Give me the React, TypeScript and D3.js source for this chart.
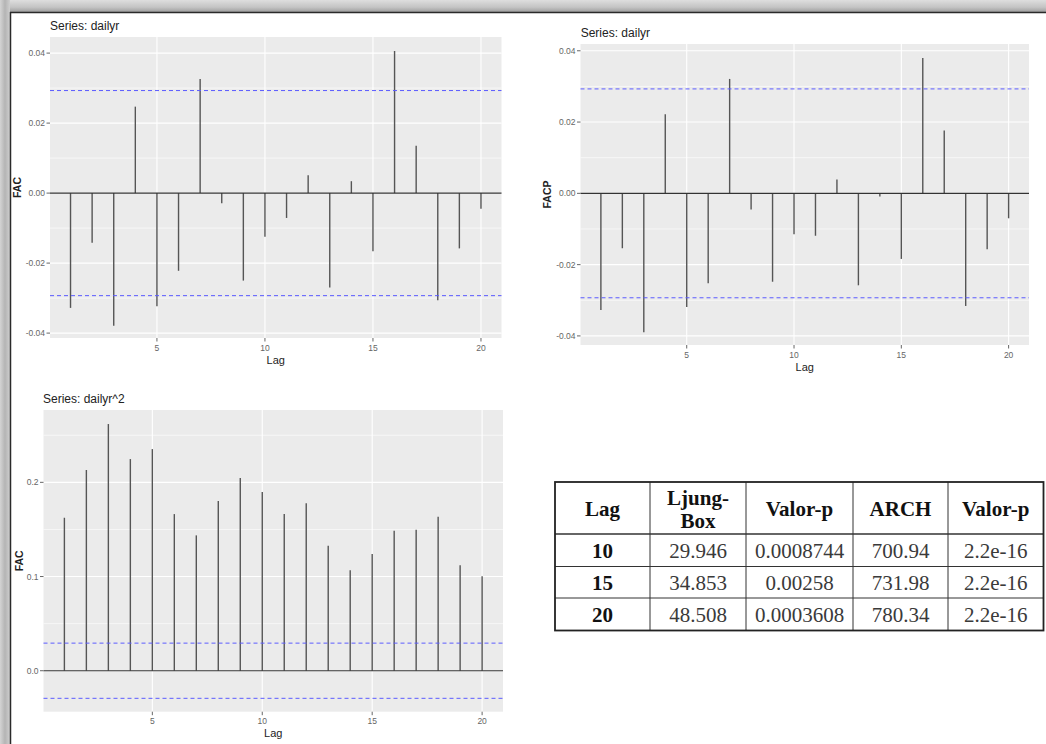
import React from 'react';
import * as d3 from 'd3';

const lags = [1, 2, 3, 4, 5, 6, 7, 8, 9, 10, 11, 12, 13, 14, 15, 16, 17, 18, 19, 20];
const acfDailyr = [-0.0328, -0.0142, -0.0379, 0.0247, -0.0323, -0.0222, 0.0326, -0.0029, -0.025, -0.0125,
  -0.0071, 0.0051, -0.027, 0.0034, -0.0166, 0.0406, 0.0135, -0.0306, -0.0158, -0.0045];
const pacfDailyr = [-0.0327, -0.0154, -0.039, 0.0222, -0.0319, -0.0252, 0.0321, -0.0045, -0.0248, -0.0115,
  -0.0119, 0.0039, -0.0258, -0.0009, -0.0184, 0.038, 0.0176, -0.0316, -0.0157, -0.007];
const acfDailyrSq = [0.1624, 0.2131, 0.2619, 0.2247, 0.2353, 0.1663, 0.1437, 0.1801, 0.2046, 0.1897,
  0.1663, 0.1777, 0.1327, 0.1066, 0.1239, 0.1486, 0.1497, 0.1635, 0.1119, 0.1002];
const ciBound = 0.0293;

const xTicks = [5, 10, 15, 20];
const yTicksSmall = [-0.04, -0.02, 0, 0.02, 0.04];
const yTickLabelsSmall = ['-0.04', '-0.02', '0.00', '0.02', '0.04'];
const yMinorSmall = [-0.03, -0.01, 0.01, 0.03];
const yTicksSq = [0, 0.1, 0.2];
const yTickLabelsSq = ['0.0', '0.1', '0.2'];
const yMinorSq = [0.05, 0.15, 0.25];

const tableHeader = [['Lag'], ['Ljung-', 'Box'], ['Valor-p'], ['ARCH'], ['Valor-p']];
const tableLags = ['10', '15', '20'];
const tableLjungBox = ['29.946', '34.853', '48.508'];
const tablePLjung = ['0.0008744', '0.00258', '0.0003608'];
const tableArch = ['700.94', '731.98', '780.34'];
const tablePArch = ['2.2e-16', '2.2e-16', '2.2e-16'];

const SANS = 'Liberation Sans, Arial, sans-serif';
const SERIF = 'Liberation Serif, Times New Roman, serif';

type PanelProps = {
  x0: number; x1: number; y0: number; y1: number;
  yDomain: [number, number];
  values: number[];
  title: string; titleX: number; titleY: number;
  yLabel: string; yLabelX: number;
  yTicks: number[]; yTickLabels: string[]; yMinor: number[];
  xTickY: number; xLabelY: number;
};

function AcfPanel(p: PanelProps) {
  const x = d3.scaleLinear().domain([0.05, 20.95]).range([p.x0, p.x1]);
  const y = d3.scaleLinear().domain(p.yDomain).range([p.y1, p.y0]);
  const cx = (p.x0 + p.x1) / 2;
  const cy = (p.y0 + p.y1) / 2;
  return (
    <g>
      <rect x={p.x0} y={p.y0} width={p.x1 - p.x0} height={p.y1 - p.y0} fill="#EBEBEB" />
      {p.yMinor.map((v) => (
        <line key={'ym' + v} x1={p.x0} x2={p.x1} y1={y(v)} y2={y(v)} stroke="#fff" strokeWidth={0.6} />
      ))}
      {p.yTicks.map((v) => (
        <line key={'yg' + v} x1={p.x0} x2={p.x1} y1={y(v)} y2={y(v)} stroke="#fff" strokeWidth={1.1} />
      ))}
      {xTicks.map((v) => (
        <line key={'xg' + v} x1={x(v)} x2={x(v)} y1={p.y0} y2={p.y1} stroke="#fff" strokeWidth={1.1} />
      ))}
      {lags.map((l, i) => (
        <line key={'s' + l} x1={x(l)} x2={x(l)} y1={y(0)} y2={y(p.values[i])} stroke="#555" strokeWidth={1.4} />
      ))}
      <line x1={p.x0} x2={p.x1} y1={y(0)} y2={y(0)} stroke="#333" strokeWidth={1.1} />
      {[ciBound, -ciBound].map((v) => (
        <line key={'ci' + v} x1={p.x0} x2={p.x1} y1={y(v)} y2={y(v)} stroke="#5b5bff" strokeWidth={1} strokeDasharray="4,3" />
      ))}
      {p.yTicks.map((v, i) => (
        <g key={'yt' + v}>
          <line x1={p.x0 - 3.5} x2={p.x0} y1={y(v)} y2={y(v)} stroke="#666" strokeWidth={1} />
          <text x={p.x0 - 5} y={y(v)} dy="0.35em" textAnchor="end" fontFamily={SANS} fontSize={8.5} fill="#666">
            {p.yTickLabels[i]}
          </text>
        </g>
      ))}
      {xTicks.map((v) => (
        <g key={'xt' + v}>
          <line x1={x(v)} x2={x(v)} y1={p.y1} y2={p.y1 + 3.5} stroke="#666" strokeWidth={1} />
          <text x={x(v)} y={p.xTickY} dy="0.35em" textAnchor="middle" fontFamily={SANS} fontSize={8.5} fill="#666">
            {v}
          </text>
        </g>
      ))}
      <text x={p.titleX} y={p.titleY} fontFamily={SANS} fontSize={12} fill="#222">{p.title}</text>
      <text x={cx} y={p.xLabelY} dy="0.35em" textAnchor="middle" fontFamily={SANS} fontSize={11} fill="#222">Lag</text>
      <text transform={`translate(${p.yLabelX},${cy}) rotate(-90)`} dy="0.35em" textAnchor="middle"
        fontFamily={SANS} fontSize={10.5} fontWeight="bold" fill="#222">{p.yLabel}</text>
    </g>
  );
}

function StatsTable() {
  const colX = [555, 650, 746, 853, 948, 1043.5];
  const rowY = [482, 534, 566.5, 598, 630.5];
  const cols = [tableLags, tableLjungBox, tablePLjung, tableArch, tablePArch];
  const mid = (i: number) => (colX[i] + colX[i + 1]) / 2;
  return (
    <g fontFamily={SERIF} fontSize={21}>
      <rect x={colX[0]} y={rowY[0]} width={colX[5] - colX[0]} height={rowY[4] - rowY[0]} fill="#fff" />
      {colX.slice(1, 5).map((cxv) => (
        <line key={'c' + cxv} x1={cxv} x2={cxv} y1={rowY[0]} y2={rowY[4]} stroke="#333" strokeWidth={1} />
      ))}
      {rowY.slice(1, 4).map((ry, i) => (
        <line key={'r' + ry} x1={colX[0]} x2={colX[5]} y1={ry} y2={ry} stroke="#333" strokeWidth={i === 0 ? 1.6 : 1} />
      ))}
      <rect x={colX[0]} y={rowY[0]} width={colX[5] - colX[0]} height={rowY[4] - rowY[0]} fill="none" stroke="#222" strokeWidth={1.8} />
      {tableHeader.map((lines, i) => (
        lines.length === 1 ? (
          <text key={'h' + i} x={mid(i)} y={516} textAnchor="middle" fontWeight="bold" fill="#111">{lines[0]}</text>
        ) : (
          <text key={'h' + i} textAnchor="middle" fontWeight="bold" fill="#111">
            <tspan x={mid(i)} y={505}>{lines[0]}</tspan>
            <tspan x={mid(i)} y={528}>{lines[1]}</tspan>
          </text>
        )
      ))}
      {cols.map((col, ci) => col.map((val, ri) => (
        <text key={'v' + ci + '-' + ri} x={mid(ci)} y={(rowY[ri + 1] + rowY[ri + 2]) / 2 + 8} textAnchor="middle"
          fontWeight={ci === 0 ? 'bold' : 'normal'} fill={ci === 0 ? '#111' : '#3a3a3a'}>{val}</text>
      )))}
    </g>
  );
}

export default function App() {
  return (
    <svg width={1046} height={744} style={{ position: 'absolute', left: 0, top: 0 }}>
      <defs>
        <linearGradient id="topBand" x1="0" y1="0" x2="0" y2="1">
          <stop offset="0" stopColor="#dedede" />
          <stop offset="0.6" stopColor="#c4c4c4" />
          <stop offset="1" stopColor="#9e9e9e" />
        </linearGradient>
        <linearGradient id="leftBand" x1="0" y1="0" x2="1" y2="0">
          <stop offset="0" stopColor="#d4d4d4" />
          <stop offset="0.5" stopColor="#b4b4b4" />
          <stop offset="1" stopColor="#cfcfcf" />
        </linearGradient>
      </defs>
      <rect x={0} y={0} width={1046} height={744} fill="#fff" />
      <rect x={0} y={0} width={1046} height={12} fill="url(#topBand)" />
      <rect x={0} y={0} width={10} height={744} fill="url(#leftBand)" />
      <line x1={10} x2={1046} y1={12.5} y2={12.5} stroke="#2a2a2a" strokeWidth={1.5} />
      <line x1={10.5} x2={10.5} y1={12} y2={744} stroke="#2a2a2a" strokeWidth={1.5} />

      <AcfPanel x0={50} x1={501.5} y0={37} y1={338} yDomain={[-0.0414, 0.0446]} values={acfDailyr}
        title="Series: dailyr" titleX={50} titleY={30} yLabel="FAC" yLabelX={17.5}
        yTicks={yTicksSmall} yTickLabels={yTickLabelsSmall} yMinor={yMinorSmall} xTickY={348} xLabelY={360} />
      <AcfPanel x0={580.5} x1={1029} y0={44} y1={345} yDomain={[-0.04255, 0.0419]} values={pacfDailyr}
        title="Series: dailyr" titleX={580.7} titleY={37} yLabel="FACP" yLabelX={547.5}
        yTicks={yTicksSmall} yTickLabels={yTickLabelsSmall} yMinor={yMinorSmall} xTickY={355} xLabelY={366.7} />
      <AcfPanel x0={43.5} x1={503} y0={410} y1={711.7} yDomain={[-0.0435, 0.2768]} values={acfDailyrSq}
        title="Series: dailyr^2" titleX={43} titleY={403} yLabel="FAC" yLabelX={19}
        yTicks={yTicksSq} yTickLabels={yTickLabelsSq} yMinor={yMinorSq} xTickY={721} xLabelY={733} />
      <StatsTable />
    </svg>
  );
}
